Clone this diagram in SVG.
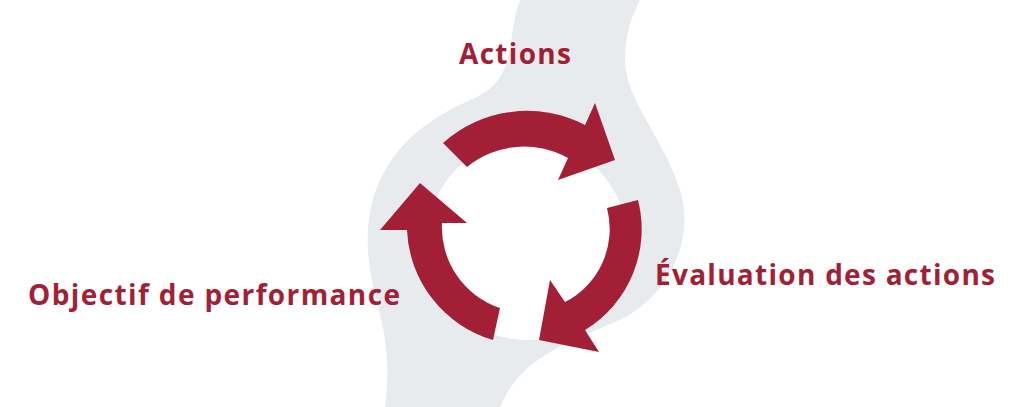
<svg xmlns="http://www.w3.org/2000/svg" width="1020" height="407" viewBox="0 0 1020 407">
<style>
.lbl{font-family:"Open Sans","Liberation Sans",sans-serif;font-weight:700;font-size:28px;fill:#A21F35}
.arr{fill:#A21F35}
</style>
<rect width="1020" height="407" fill="#fff"/>
<path d="M520,0 C505,40 520,80 470,100 C390,135 365,190 368,250 C370,300 395,330 385,407 L500,407 C520,360 560,345 620,320 C670,295 695,240 680,190 C665,140 625,100 625,60 C625,30 635,10 640,0 Z" fill="#E8EBEE"/>
<circle cx="527" cy="240" r="100" fill="#fff"/>
<g id="connectors">
<path class="arr" d="M443,143 A126,126 0 0 1 585,125 L595,103 L615,160 L558,180 L568,158 A90,90 0 0 0 467,167 Z"/>
<path class="arr" d="M638,200 A118,118 0 0 1 585,330 L599,352 L539,340 L550,280 L565,302 A82,82 0 0 0 607,208 Z"/>
<path class="arr" d="M493,340 A120,120 0 0 1 407,230 L380,230 L420,183 L467,223 L442,223 A85,85 0 0 0 500,308 Z"/>
</g>
<g id="actions"><text class="lbl" x="515" y="64" text-anchor="middle" textLength="112">Actions</text></g>
<g id="evaluation"><text class="lbl" x="655" y="285" textLength="340">Évaluation des actions</text></g>
<g id="objectif"><text class="lbl" x="28" y="305" textLength="372">Objectif de performance</text></g>
</svg>
